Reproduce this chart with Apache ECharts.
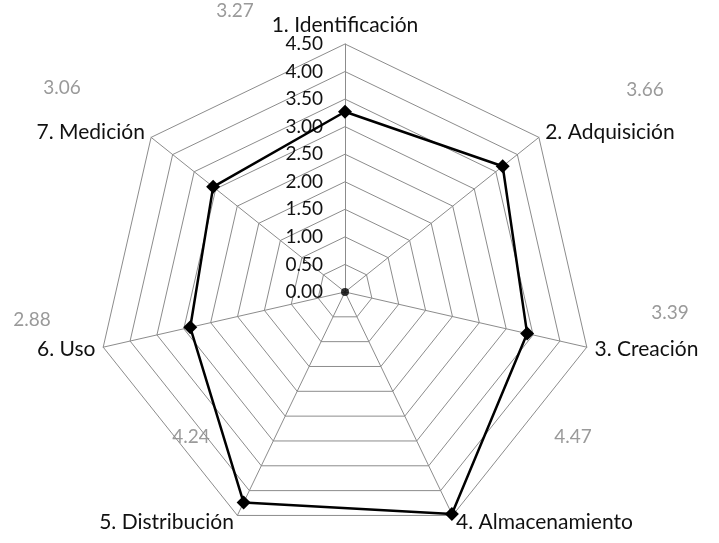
<!DOCTYPE html>
<html>
<head>
<meta charset="utf-8">
<script src="https://cdn.jsdelivr.net/npm/echarts@6/dist/echarts.min.js"></script>
<style>
  html, body { margin: 0; padding: 0; background: #fff; }
  #chart { width: 719px; height: 543px; }
</style>
</head>
<body>
<div id="chart"></div>
<script>
// Stages of the information cycle and their average scores
const stages = ['1. Identificación', '2. Adquisición', '3. Creación', '4. Almacenamiento',
                '5. Distribución', '6. Uso', '7. Medición'];
const scores = [3.27, 3.66, 3.39, 4.47, 4.24, 2.88, 3.06];
const scaleMax = 4.5;
const scaleStep = 0.5;

// Where each score's grey caption sits around the web
const captionSpots = [[235, 11], [645, 90], [670, 313], [573, 437], [191, 437], [32, 320], [62, 88]];

const CX = 345, CY = 292, R = 248;
const FONT = 'Lato, "Open Sans", sans-serif';

// Radar lays indicators out counter-clockwise from the top; keep the first
// stage on top and run the rest clockwise.
const order = [0].concat(stages.map((_, i) => i).slice(1).reverse());

const chart = echarts.init(document.getElementById('chart'), null, { renderer: 'canvas' });

chart.setOption({
  animation: false,
  backgroundColor: '#ffffff',
  radar: {
    center: [CX, CY],
    radius: R,
    startAngle: 90,
    shape: 'polygon',
    splitNumber: Math.round(scaleMax / scaleStep),
    indicator: order.map(i => ({ name: stages[i], min: 0, max: scaleMax })),
    nameGap: 8,
    axisName: { color: '#111', fontSize: 21, fontFamily: FONT },
    axisLine: { lineStyle: { color: '#8c8c8c', width: 1 } },
    splitLine: { lineStyle: { color: '#8c8c8c', width: 1 } },
    splitArea: { show: false },
    axisTick: { show: false },
    axisLabel: { show: false }
  },
  // A grid laid over the vertical spoke carries the scale labels
  grid: { left: CX, top: CY - R, width: 100, height: R, containLabel: false },
  xAxis: { type: 'value', min: 0, max: 1, show: false },
  yAxis: {
    type: 'value', min: 0, max: scaleMax, interval: scaleStep,
    axisLine: { show: false }, axisTick: { show: false }, splitLine: { show: false },
    axisLabel: {
      margin: 22, color: '#111', fontSize: 19, fontFamily: FONT,
      formatter: v => v.toFixed(2)
    }
  },
  series: [
    {
      type: 'radar',
      symbol: 'diamond',
      symbolSize: 14,
      itemStyle: { color: '#000' },
      lineStyle: { color: '#000', width: 2.5 },
      data: [{ value: order.map(i => scores[i]) }]
    },
    {
      type: 'scatter',
      symbol: 'circle',
      symbolSize: 8,
      itemStyle: { color: '#000' },
      data: [[0, 0]]
    }
  ],
  graphic: scores.map((s, i) => ({
    type: 'text',
    x: captionSpots[i][0],
    y: captionSpots[i][1],
    style: {
      text: s.toFixed(2),
      fill: '#9a9a9a',
      fontSize: 19,
      fontFamily: FONT,
      align: 'center',
      verticalAlign: 'middle'
    }
  }))
});
</script>
</body>
</html>
